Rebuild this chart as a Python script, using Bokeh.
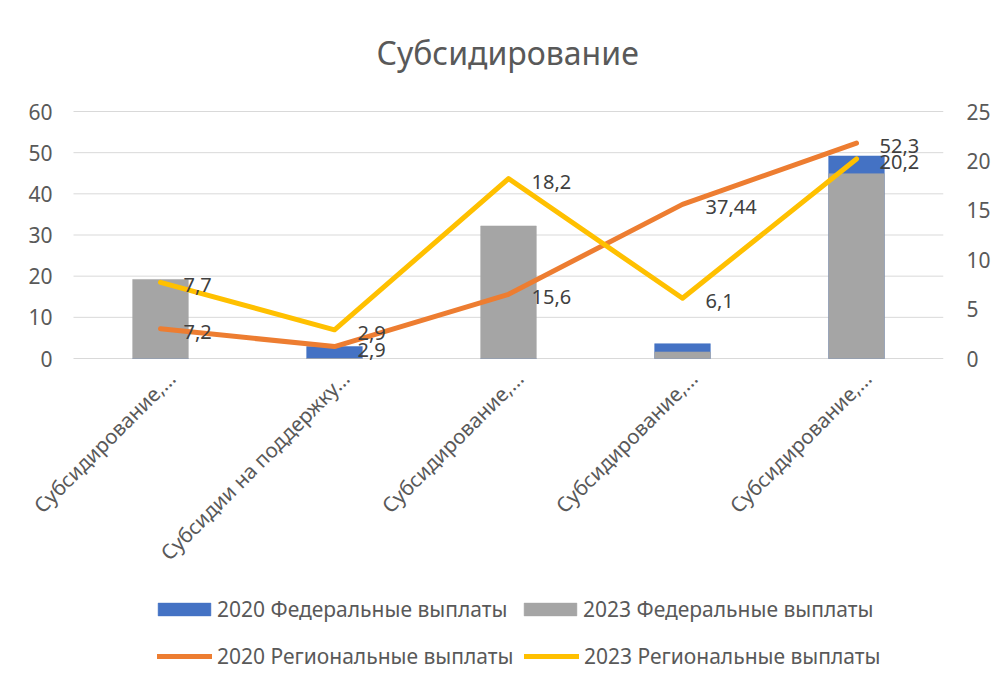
from math import pi
from bokeh.plotting import figure
from bokeh.models import Range1d, LinearAxis, FixedTicker, Legend, LegendItem, ColumnDataSource
from bokeh.core.properties import value
from bokeh.embed import file_html
from bokeh.resources import INLINE

# ---- data ----
categories = ["Субсидирование,...", "Субсидии на поддержку...", "Субсидирование,...",
              "Субсидирование,...", "Субсидирование,..."]
fed_2020 = [0.0, 2.9, 0.0, 3.6, 49.2]
fed_2023 = [19.2, 0.0, 32.2, 1.6, 44.9]
reg_2020 = [7.2, 2.9, 15.6, 37.44, 52.3]
reg_2023 = [7.7, 2.9, 18.2, 6.1, 20.2]
left_ticks = [0, 10, 20, 30, 40, 50, 60]
right_ticks = [0, 5, 10, 15, 20, 25]
series_names = ["2020 Федеральные выплаты", "2023 Федеральные выплаты",
                "2020 Региональные выплаты", "2023 Региональные выплаты"]

FONT = "Noto Sans"
TXT = "#595959"
GRID = "#D9D9D9"
C_BLUE, C_GRAY, C_ORANGE, C_YELLOW = "#4472C4", "#A5A5A5", "#ED7D31", "#FFC000"

# ---- layout (pixels) ----
FRAME_TOP_PX, TOP_PX, ZERO_PX, BOTTOM_PX = 95, 111, 358, 680   # frame top, top gridline, zero gridline, frame bottom
FRAME_LEFT_PX, GRID_LEFT_PX, GRID_RIGHT_PX = 8, 73, 943

def fmt(v):
    return f"{v:g}".replace(".", ",")

n = len(categories)
xs = list(range(n))
src = ColumnDataSource(dict(
    x=xs, f20=fed_2020, f23=fed_2023, r20=reg_2020, r23=reg_2023,
    l20=[fmt(v) for v in reg_2020], l23=[fmt(v) for v in reg_2023],
    base=[left_ticks[0]] * n, cat=categories,
))
gx0, gx1 = -0.5, n - 0.5
grid_src = ColumnDataSource(dict(
    y=left_ticks, x0=[gx0] * len(left_ticks), x1=[gx1] * len(left_ticks),
    t=[str(t) for t in left_ticks],
))

# frame extends beyond the grid (labels and legend live inside it)
px_per_x = (GRID_RIGHT_PX - GRID_LEFT_PX) / (gx1 - gx0)
x_lo = gx0 - (GRID_LEFT_PX - FRAME_LEFT_PX) / px_per_x
grid_h = ZERO_PX - TOP_PX
ext_lo = (BOTTOM_PX - ZERO_PX) / grid_h
ext_hi = (TOP_PX - FRAME_TOP_PX) / grid_h
span_l = left_ticks[-1] - left_ticks[0]
span_r = right_ticks[-1] - right_ticks[0]

p = figure(frame_width=GRID_RIGHT_PX - FRAME_LEFT_PX, frame_height=BOTTOM_PX - FRAME_TOP_PX,
           x_range=Range1d(x_lo, gx1),
           y_range=Range1d(left_ticks[0] - ext_lo * span_l, left_ticks[-1] + ext_hi * span_l),
           output_backend="svg", toolbar_location=None,
           min_border_left=FRAME_LEFT_PX, min_border_right=45, min_border_top=FRAME_TOP_PX,
           min_border_bottom=0, title="Субсидирование")
p.extra_y_ranges = {"right": Range1d(right_ticks[0] - ext_lo * span_r,
                                     right_ticks[-1] + ext_hi * span_r)}

p.title.align = "left"
p.title.offset = 376 - FRAME_LEFT_PX
p.title.text_font = FONT
p.title.text_font_size = "32px"
p.title.text_font_style = "normal"
p.title.text_color = TXT
p.title.standoff = 44

p.outline_line_color = None
p.background_fill_color = "white"
p.border_fill_color = "white"

p.xaxis.visible = False
p.yaxis.visible = False
p.xgrid.grid_line_color = None
p.ygrid.grid_line_color = None

ry = LinearAxis(y_range_name="right", ticker=FixedTicker(ticks=right_ticks))
ry.axis_line_color = None
ry.major_tick_line_color = None
ry.minor_tick_line_color = None
ry.major_label_text_font = FONT
ry.major_label_text_font_size = "21px"
ry.major_label_text_color = TXT
ry.major_label_standoff = 17
p.add_layout(ry, "right")

# horizontal gridlines and left tick labels
p.segment(x0="x0", x1="x1", y0="y", y1="y", source=grid_src, line_color=GRID, line_width=1)
p.text(x="x0", y="y", text="t", source=grid_src, x_offset=-21,
       text_font=value(FONT), text_font_size="21px", text_color=TXT,
       text_align="right", text_baseline="middle")

# category labels (rotated, ending just below the zero line)
p.text(x="x", y="base", text="cat", source=src, angle=pi / 4, x_offset=11, y_offset=16,
       text_font=value(FONT), text_font_size="20.5px", text_color=TXT,
       text_align="right", text_baseline="middle")

# bars (full overlap, 2023 drawn over 2020)
b1 = p.vbar(x="x", top="f20", width=0.32, source=src, fill_color=C_BLUE, line_color=C_BLUE, line_width=0.5)
b2 = p.vbar(x="x", top="f23", width=0.32, source=src, fill_color=C_GRAY, line_color=C_GRAY, line_width=0.5)

# lines
l1 = p.line(x="x", y="r20", source=src, line_color=C_ORANGE, line_width=5,
            line_cap="round", line_join="round")
l2 = p.line(x="x", y="r23", source=src, line_color=C_YELLOW, line_width=5,
            line_cap="round", line_join="round", y_range_name="right")

# data labels
lab = dict(x_offset=23, y_offset=3, text_font=value(FONT), text_font_size="20px",
           text_color="#404040", text_baseline="middle", text_align="left")
p.text(x="x", y="r20", text="l20", source=src, **lab)
p.text(x="x", y="r23", text="l23", source=src, y_range_name="right", **lab)

# legends (two rows, inside the extended frame)
def style(lg):
    lg.label_text_font = FONT
    lg.label_text_font_size = "21px"
    lg.label_text_color = TXT
    lg.label_height = 20
    lg.padding = 0
    lg.margin = 0
    lg.border_line_color = None
    lg.background_fill_alpha = 0
    lg.orientation = "horizontal"

leg1 = Legend(items=[LegendItem(label=series_names[0], renderers=[b1]),
                     LegendItem(label=series_names[1], renderers=[b2])],
              location=(151 - FRAME_LEFT_PX, BOTTOM_PX - 623))
style(leg1)
leg1.glyph_width = 66
leg1.glyph_height = 16
leg1.label_standoff = 0
leg1.label_width = 296
leg1.spacing = 4

leg2 = Legend(items=[LegendItem(label=series_names[2], renderers=[l1]),
                     LegendItem(label=series_names[3], renderers=[l2])],
              location=(157 - FRAME_LEFT_PX, BOTTOM_PX - 670))
style(leg2)
leg2.glyph_width = 55
leg2.glyph_height = 16
leg2.label_standoff = 5
leg2.label_width = 300
leg2.spacing = 7

p.add_layout(leg1)
p.add_layout(leg2)

open("out.html", "w").write(file_html(p, INLINE))
